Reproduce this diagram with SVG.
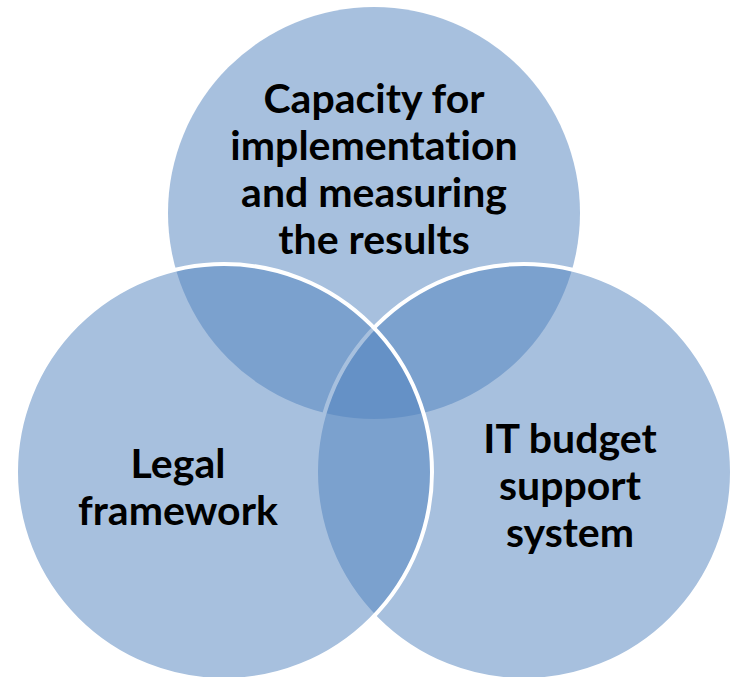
<svg xmlns="http://www.w3.org/2000/svg" width="732" height="677" viewBox="0 0 732 677">
  <style>
    .set { fill: #4F81BD; fill-opacity: 0.5; }
    .edge { stroke: #FFFFFF; stroke-width: 4; }
    .label { font-family: Lato, "Liberation Sans", Arial, sans-serif; font-weight: bold; font-size: 41px; fill: #000000; text-anchor: middle; font-variant-ligatures: none; font-feature-settings: "liga" 0, "clig" 0; }
  </style>
  <rect x="0" y="0" width="732" height="677" fill="#FFFFFF"/>
  <!-- three overlapping sets, semi-transparent so overlaps darken -->
  <g id="capacity">
    <circle class="set" cx="374" cy="213" r="206"/>
  </g>
  <g id="it-budget">
    <circle class="set edge" cx="524" cy="472" r="208"/>
  </g>
  <g id="legal">
    <circle class="set edge" cx="224" cy="472" r="208"/>
  </g>
  <g id="connectors"></g>
  <!-- labels -->
  <g id="capacity-label">
    <text class="label" x="374" y="113">Capacity for</text>
    <text class="label" x="374" y="160">implementation</text>
    <text class="label" x="374" y="207">and measuring</text>
    <text class="label" x="374" y="254">the results</text>
  </g>
  <g id="legal-label">
    <text class="label" x="178" y="478">Legal</text>
    <text class="label" x="178" y="525">framework</text>
  </g>
  <g id="it-budget-label">
    <text class="label" x="570" y="453">IT budget</text>
    <text class="label" x="570" y="500">support</text>
    <text class="label" x="570" y="547">system</text>
  </g>
</svg>
